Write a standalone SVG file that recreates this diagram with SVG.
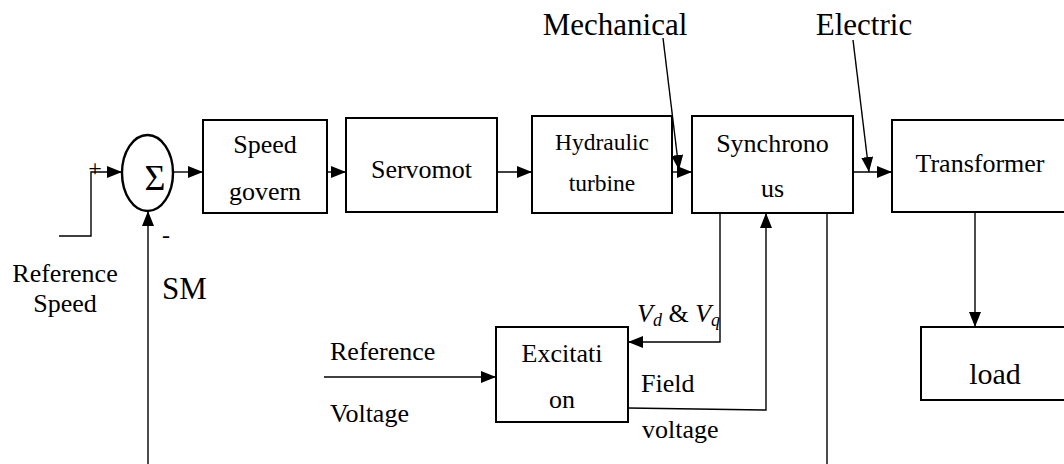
<svg xmlns="http://www.w3.org/2000/svg" width="1064" height="464" viewBox="0 0 1064 464">
<style>
.box{fill:#fff;stroke:#000;stroke-width:2}
.ln{fill:none;stroke:#000;stroke-width:1.4}
.t{font-family:"Liberation Serif","Times New Roman",serif;font-size:26px;fill:#000}
.tm{text-anchor:middle}
.big{font-size:31px}
.hy{font-size:23.5px}
.sm{font-size:24px}
.vq{font-size:26px;font-style:italic}
.sub{font-size:18px;font-style:italic}
</style>
<defs>
<marker id="ah" markerUnits="userSpaceOnUse" markerWidth="16" markerHeight="13" refX="15" refY="6" orient="auto">
<path d="M0,0 L15,6 L0,12 z" fill="#000"/>
</marker>
</defs>
<rect width="1064" height="464" fill="#fff"/>
<g id="connectors">
<path class="ln" d="M59,236 H91 V172 H122" marker-end="url(#ah)"/>
<path class="ln" d="M173,172 H203" marker-end="url(#ah)"/>
<path class="ln" d="M327,172 H346" marker-end="url(#ah)"/>
<path class="ln" d="M497,172 H532" marker-end="url(#ah)"/>
<path class="ln" d="M663,172 H692" marker-end="url(#ah)"/>
<path class="ln" d="M663,38 L679,170" marker-end="url(#ah)"/>
<path class="ln" d="M853,172 H892" marker-end="url(#ah)"/>
<path class="ln" d="M853,40 L869,172" marker-end="url(#ah)"/>
<path class="ln" d="M975,212 V327" marker-end="url(#ah)"/>
<path class="ln" d="M720,213 V342 H628" marker-end="url(#ah)"/>
<path class="ln" d="M628,408 L766,410 V213" marker-end="url(#ah)"/>
<path class="ln" d="M324,377 H496" marker-end="url(#ah)"/>
<path class="ln" d="M827,213 V464"/>
<path class="ln" d="M148,464 V211" marker-end="url(#ah)"/>
</g>
<g id="sum">
<ellipse cx="147.5" cy="173" rx="25.5" ry="38" fill="#fff" stroke="#000" stroke-width="2.4"/>
<text class="t tm" x="155" y="190" style="font-size:36px">Σ</text>
<text class="t tm sm" x="95" y="176">+</text>
<text class="t tm sm" x="166" y="243">-</text>
</g>
<g id="speed-governor">
<rect class="box" x="203" y="120" width="124" height="93"/>
<text class="t tm" x="265" y="153">Speed</text>
<text class="t tm" x="265" y="200">govern</text>
</g>
<g id="servomotor">
<rect class="box" x="346" y="118" width="151" height="94"/>
<text class="t tm" x="421.5" y="178">Servomot</text>
</g>
<g id="hydraulic-turbine">
<rect class="box" x="532" y="116" width="140" height="97"/>
<text class="t tm hy" x="602" y="150">Hydraulic</text>
<text class="t tm hy" x="602" y="191">turbine</text>
</g>
<g id="synchronous">
<rect class="box" x="692" y="116" width="161" height="97"/>
<text class="t tm" x="772.5" y="152">Synchrono</text>
<text class="t tm" x="772.5" y="197">us</text>
</g>
<g id="transformer">
<rect class="box" x="892" y="120" width="176" height="92"/>
<text class="t tm" x="980" y="172">Transformer</text>
</g>
<g id="load">
<rect class="box" x="921" y="327" width="148" height="73"/>
<text class="t tm" x="995" y="384" style="font-size:30px">load</text>
</g>
<g id="excitation">
<rect class="box" x="496" y="327" width="132" height="95"/>
<text class="t tm" x="562" y="362">Excitati</text>
<text class="t tm" x="562" y="408">on</text>
</g>
<g id="labels">
<text class="t tm big" x="615" y="35">Mechanical</text>
<text class="t tm big" x="864" y="35">Electric</text>
<text class="t tm" x="65" y="282">Reference</text>
<text class="t tm" x="65" y="312">Speed</text>
<text class="t big" x="162" y="299">SM</text>
<text class="t" x="330" y="360">Reference</text>
<text class="t" x="330" y="422">Voltage</text>
<text class="t" x="641" y="392">Field</text>
<text class="t" x="642" y="438">voltage</text>
<text class="t vq" x="637" y="322">V<tspan class="sub" dy="4">d</tspan><tspan style="font-style:normal" dy="-4"> &amp; </tspan>V<tspan class="sub" dy="4">q</tspan></text>
</g>
</svg>
